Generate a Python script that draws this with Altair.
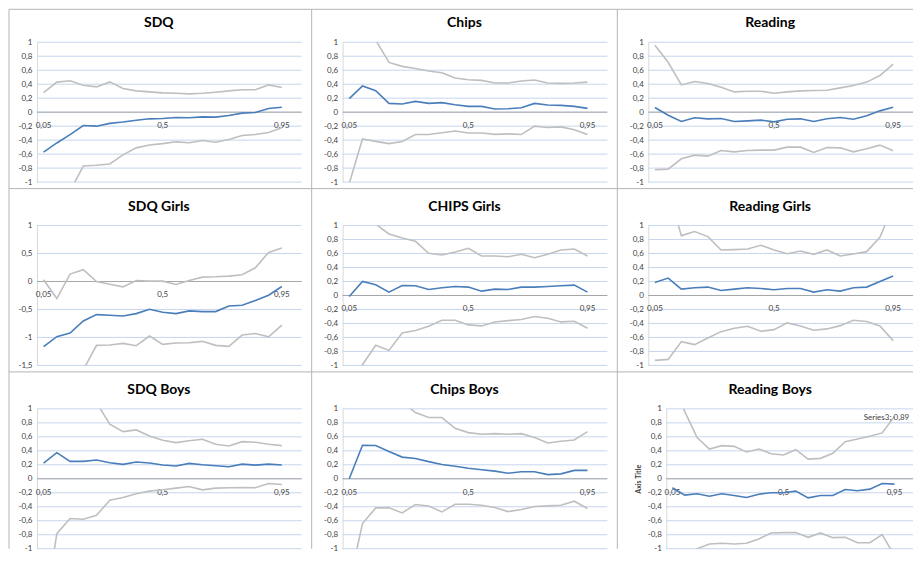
import altair as alt
import pandas as pd

# ---------------- data ----------------
quantiles = [0.05, 0.10, 0.15, 0.20, 0.25, 0.30, 0.35, 0.40, 0.45, 0.50,
             0.55, 0.60, 0.65, 0.70, 0.75, 0.80, 0.85, 0.90, 0.95]
x_label_values = [0.05, 0.5, 0.95]
titles = ["SDQ", "Chips", "Reading",
          "SDQ Girls", "CHIPS Girls", "Reading Girls",
          "SDQ Boys", "Chips Boys", "Reading Boys"]

sdq_est = [-0.57, -0.44, -0.32, -0.19, -0.2, -0.16, -0.14, -0.115, -0.095, -0.09,
           -0.076, -0.08, -0.067, -0.07, -0.048, -0.014, -0.005, 0.052, 0.071]
sdq_hi = [0.28, 0.43, 0.45, 0.386, 0.362, 0.433, 0.338, 0.305, 0.29, 0.276,
          0.27, 0.262, 0.27, 0.286, 0.305, 0.32, 0.32, 0.39, 0.352]
sdq_lo = [-1.5, -1.3, -1.13, -0.77, -0.76, -0.74, -0.61, -0.51, -0.47, -0.45,
          -0.424, -0.438, -0.405, -0.43, -0.39, -0.333, -0.32, -0.29, -0.224]

chips_est = [0.193, 0.374, 0.307, 0.126, 0.117, 0.155, 0.126, 0.136, 0.107, 0.083,
             0.083, 0.045, 0.05, 0.064, 0.126, 0.102, 0.098, 0.083, 0.055]
chips_hi = [1.4, 1.25, 1.03, 0.712, 0.655, 0.626, 0.588, 0.564, 0.488, 0.464,
            0.455, 0.417, 0.417, 0.445, 0.46, 0.417, 0.412, 0.417, 0.43]
chips_lo = [-1.02, -0.383, -0.417, -0.45, -0.42, -0.32, -0.32, -0.293, -0.27, -0.298,
            -0.298, -0.317, -0.31, -0.32, -0.2, -0.22, -0.21, -0.25, -0.32]

read_est = [0.067, -0.043, -0.133, -0.08, -0.095, -0.09, -0.133, -0.124, -0.114, -0.138,
            -0.1, -0.095, -0.133, -0.095, -0.076, -0.1, -0.052, 0.019, 0.071]
read_hi = [0.957, 0.714, 0.39, 0.438, 0.41, 0.357, 0.29, 0.3, 0.3, 0.271,
           0.29, 0.305, 0.31, 0.314, 0.348, 0.381, 0.43, 0.524, 0.686]
read_lo = [-0.824, -0.814, -0.667, -0.614, -0.629, -0.548, -0.567, -0.548, -0.543, -0.543,
           -0.5, -0.5, -0.576, -0.505, -0.51, -0.567, -0.524, -0.471, -0.552]

sdqg_est = [-1.166, -0.987, -0.921, -0.706, -0.592, -0.604, -0.616, -0.574, -0.496, -0.55,
            -0.574, -0.526, -0.538, -0.538, -0.437, -0.425, -0.341, -0.245, -0.09]
sdqg_hi = [0.03, -0.305, 0.132, 0.21, 0.0, -0.048, -0.096, 0.018, 0.006, 0.006,
           -0.054, 0.018, 0.078, 0.084, 0.096, 0.12, 0.245, 0.52, 0.598]
sdqg_lo = [-1.9, -1.8, -1.7, -1.58, -1.142, -1.136, -1.106, -1.148, -0.975, -1.124,
           -1.1, -1.094, -1.07, -1.142, -1.16, -0.957, -0.93, -0.99, -0.78]

chipsg_est = [-0.014, 0.2, 0.153, 0.048, 0.143, 0.139, 0.086, 0.11, 0.129, 0.12,
              0.062, 0.091, 0.086, 0.12, 0.12, 0.129, 0.139, 0.148, 0.048]
chipsg_hi = [1.4, 1.25, 1.02, 0.88, 0.823, 0.775, 0.603, 0.579, 0.622, 0.675,
             0.565, 0.565, 0.555, 0.589, 0.541, 0.589, 0.651, 0.665, 0.565]
chipsg_lo = [-1.5, -0.99, -0.713, -0.785, -0.536, -0.502, -0.44, -0.354, -0.354, -0.421,
             -0.435, -0.378, -0.359, -0.344, -0.301, -0.325, -0.378, -0.368, -0.469]

readg_est = [0.187, 0.249, 0.091, 0.11, 0.12, 0.072, 0.091, 0.11, 0.1, 0.081,
             0.1, 0.1, 0.048, 0.081, 0.062, 0.11, 0.12, 0.2, 0.278]
readg_hi = [1.5, 1.5, 0.856, 0.914, 0.842, 0.651, 0.656, 0.665, 0.718, 0.651,
            0.598, 0.636, 0.589, 0.651, 0.565, 0.593, 0.627, 0.833, 1.28]
readg_lo = [-0.928, -0.914, -0.66, -0.703, -0.608, -0.517, -0.469, -0.44, -0.512, -0.488,
            -0.392, -0.435, -0.498, -0.478, -0.431, -0.354, -0.373, -0.435, -0.646]

sdqb_est = [0.225, 0.373, 0.249, 0.249, 0.268, 0.23, 0.206, 0.239, 0.225, 0.196,
            0.182, 0.22, 0.2, 0.187, 0.172, 0.21, 0.196, 0.21, 0.196]
sdqb_hi = [1.4, 1.4, 1.35, 1.25, 1.09, 0.78, 0.675, 0.699, 0.612, 0.55,
           0.517, 0.545, 0.565, 0.493, 0.469, 0.531, 0.522, 0.493, 0.474]
sdqb_lo = [-2.0, -0.785, -0.569, -0.579, -0.522, -0.306, -0.268, -0.215, -0.177, -0.158,
           -0.134, -0.11, -0.158, -0.134, -0.129, -0.124, -0.129, -0.067, -0.081]

chipsb_est = [0.0, 0.48, 0.475, 0.39, 0.31, 0.29, 0.245, 0.205, 0.18, 0.15,
              0.13, 0.11, 0.08, 0.1, 0.1, 0.06, 0.07, 0.12, 0.12]
chipsb_hi = [1.4, 1.35, 1.3, 1.2, 1.1, 0.947, 0.876, 0.876, 0.722, 0.66,
             0.636, 0.646, 0.636, 0.646, 0.589, 0.512, 0.536, 0.555, 0.675]
chipsb_lo = [-1.5, -0.641, -0.416, -0.416, -0.488, -0.368, -0.388, -0.474, -0.364, -0.364,
             -0.378, -0.411, -0.469, -0.44, -0.397, -0.388, -0.378, -0.321, -0.426]

readb_est = [-0.129, -0.234, -0.215, -0.249, -0.215, -0.239, -0.268, -0.22, -0.2, -0.2,
             -0.177, -0.273, -0.239, -0.239, -0.153, -0.172, -0.148, -0.067, -0.077]
readb_hi = [1.4, 0.96, 0.589, 0.426, 0.474, 0.464, 0.383, 0.426, 0.359, 0.34,
            0.416, 0.282, 0.292, 0.364, 0.531, 0.569, 0.608, 0.656, 0.89]
readb_lo = [-1.2, -1.15, -1.0, -0.933, -0.923, -0.933, -0.923, -0.861, -0.775, -0.77,
            -0.77, -0.837, -0.775, -0.842, -0.837, -0.914, -0.914, -0.799, -1.1]

y_ticks_std = [-1, -0.8, -0.6, -0.4, -0.2, 0, 0.2, 0.4, 0.6, 0.8, 1]
y_ticks_half = [-1.5, -1, -0.5, 0, 0.5, 1]
series_names = ["lo", "hi", "est"]

# ---------------- style / layout ----------------
BLUE = "#4A7EBB"
GRAY = "#BFBFBF"
GRID = "#C6D6EE"
FRAME = "#B4B4B4"
ZERO = "#A6A6A6"
LABEL = "#404040"
FONT = "Lato"

PLOT_W = 265
PLOT_H = 140
COL_GAP = 41      # gap between plot areas, horizontally
ROW_GAP = 43.5    # gap between plot areas, vertically
CELL_W = PLOT_W + COL_GAP
CELL_H = PLOT_H + ROW_GAP


def panel(title, est, hi, lo, y_domain, y_ticks, col, row, inset=0,
          axis_title=None, point_label=False):
    rows = []
    for name, vals in zip(series_names, (lo, hi, est)):
        for q, v in zip(quantiles, vals):
            rows.append({"q": q, "v": v, "s": name})
    df = pd.DataFrame(rows)

    x_scale = alt.Scale(domain=[0.025, 1.025], nice=False, zero=False,
                        range=[inset, PLOT_W])
    y_scale = alt.Scale(domain=y_domain, nice=False, zero=False)

    y_axis_kwargs = dict(
        values=y_ticks, grid=False, ticks=False, domainColor="#D9D9D9",
        labelOverlap=False,
        labelExpr="replace(toString(round(datum.value*10)/10), '.', ',')",
        labelPadding=5, labelFontSize=8, labelColor=LABEL, labelFont=FONT,
    )
    if inset:
        y_axis_kwargs.update(offset=-inset)
    if axis_title:
        y_axis_kwargs.update(title=axis_title, titleFontSize=7, titleFont=FONT,
                             titleColor=LABEL, titleFontWeight="bold", titlePadding=6)
    else:
        y_axis_kwargs.update(title=None)
    y_axis = alt.Axis(**y_axis_kwargs)

    def X(field):
        return alt.X(field, scale=x_scale, axis=None)

    def Y(field):
        return alt.Y(field, scale=y_scale, axis=y_axis)

    # horizontal gridlines and zero line
    grid = alt.Chart(pd.DataFrame({"v": y_ticks})).mark_rule(color=GRID, strokeWidth=1).encode(
        y=Y("v:Q"), x=alt.value(inset), x2=alt.value(PLOT_W))
    zero = alt.Chart(pd.DataFrame({"v": [0]})).mark_rule(color=ZERO, strokeWidth=1).encode(
        y=Y("v:Q"), x=alt.value(inset), x2=alt.value(PLOT_W))

    # category labels sitting under the zero line
    lab_x = pd.DataFrame({"q": x_label_values, "v": [0] * len(x_label_values),
                          "t": [str(v).replace(".", ",") for v in x_label_values]})
    xlabels = alt.Chart(lab_x).mark_text(font=FONT, fontSize=8, color=LABEL, dy=14,
                                         baseline="middle", align="center").encode(
        x=X("q:Q"), y=Y("v:Q"), text="t:N")

    lines = alt.Chart(df).mark_line(clip=True).encode(
        x=X("q:Q"), y=Y("v:Q"),
        color=alt.Color("s:N", scale=alt.Scale(domain=series_names, range=[GRAY, GRAY, BLUE]),
                        legend=None),
        strokeWidth=alt.StrokeWidth("s:N", scale=alt.Scale(domain=series_names, range=[1.6, 1.6, 2.2]),
                                    legend=None),
    )

    # panel frame (top and left edges)
    left_margin = 28 if col == 0 else 31
    top_margin = 33 if row == 0 else 37
    fx0 = -left_margin
    fx1 = PLOT_W if col == 2 else -31 + CELL_W
    fy0 = -top_margin
    fy1 = PLOT_H if row == 2 else -37 + CELL_H
    one = alt.Chart(pd.DataFrame({"k": [0]}))
    top_rule = one.mark_rule(color=FRAME, strokeWidth=1).encode(
        x=alt.value(fx0), x2=alt.value(fx1), y=alt.value(fy0))
    left_rule = one.mark_rule(color=FRAME, strokeWidth=1).encode(
        x=alt.value(fx0), y=alt.value(fy0), y2=alt.value(fy1))
    title_mark = one.mark_text(font=FONT, fontSize=14, fontWeight="bold", color="#000000",
                               align="center", baseline="alphabetic").encode(
        x=alt.value(122), y=alt.value(-15), text=alt.value(title))

    layers = [top_rule, left_rule, grid, xlabels, zero, lines, title_mark]
    if point_label:
        lab_df = pd.DataFrame({"q": [quantiles[-1]], "v": [hi[-1]],
                               "t": ["Series3; " + str(hi[-1]).replace(".", ",")]})
        lab = alt.Chart(lab_df).mark_text(font=FONT, fontSize=8, color=LABEL, dx=-8, dy=1,
                                          align="center", baseline="middle").encode(
            x=X("q:Q"), y=Y("v:Q"), text="t:N")
        layers.append(lab)

    return alt.layer(*layers).properties(width=PLOT_W, height=PLOT_H)


p = [
    panel(titles[0], sdq_est, sdq_hi, sdq_lo, [-1, 1], y_ticks_std, 0, 0),
    panel(titles[1], chips_est, chips_hi, chips_lo, [-1, 1], y_ticks_std, 1, 0),
    panel(titles[2], read_est, read_hi, read_lo, [-1, 1], y_ticks_std, 2, 0),
    panel(titles[3], sdqg_est, sdqg_hi, sdqg_lo, [-1.5, 1], y_ticks_half, 0, 1),
    panel(titles[4], chipsg_est, chipsg_hi, chipsg_lo, [-1, 1], y_ticks_std, 1, 1),
    panel(titles[5], readg_est, readg_hi, readg_lo, [-1, 1], y_ticks_std, 2, 1),
    panel(titles[6], sdqb_est, sdqb_hi, sdqb_lo, [-1, 1], y_ticks_std, 0, 2),
    panel(titles[7], chipsb_est, chipsb_hi, chipsb_lo, [-1, 1], y_ticks_std, 1, 2),
    panel(titles[8], readb_est, readb_hi, readb_lo, [-1, 1], y_ticks_std, 2, 2,
          inset=18, axis_title="Axis Title", point_label=True),
]

chart = alt.concat(*p, columns=3, spacing={"row": ROW_GAP, "column": COL_GAP},
                   bounds="flush").properties(
    padding=0
).configure_view(strokeWidth=0)

chart.save("out.html", embed_options={"renderer": "svg", "actions": False})
